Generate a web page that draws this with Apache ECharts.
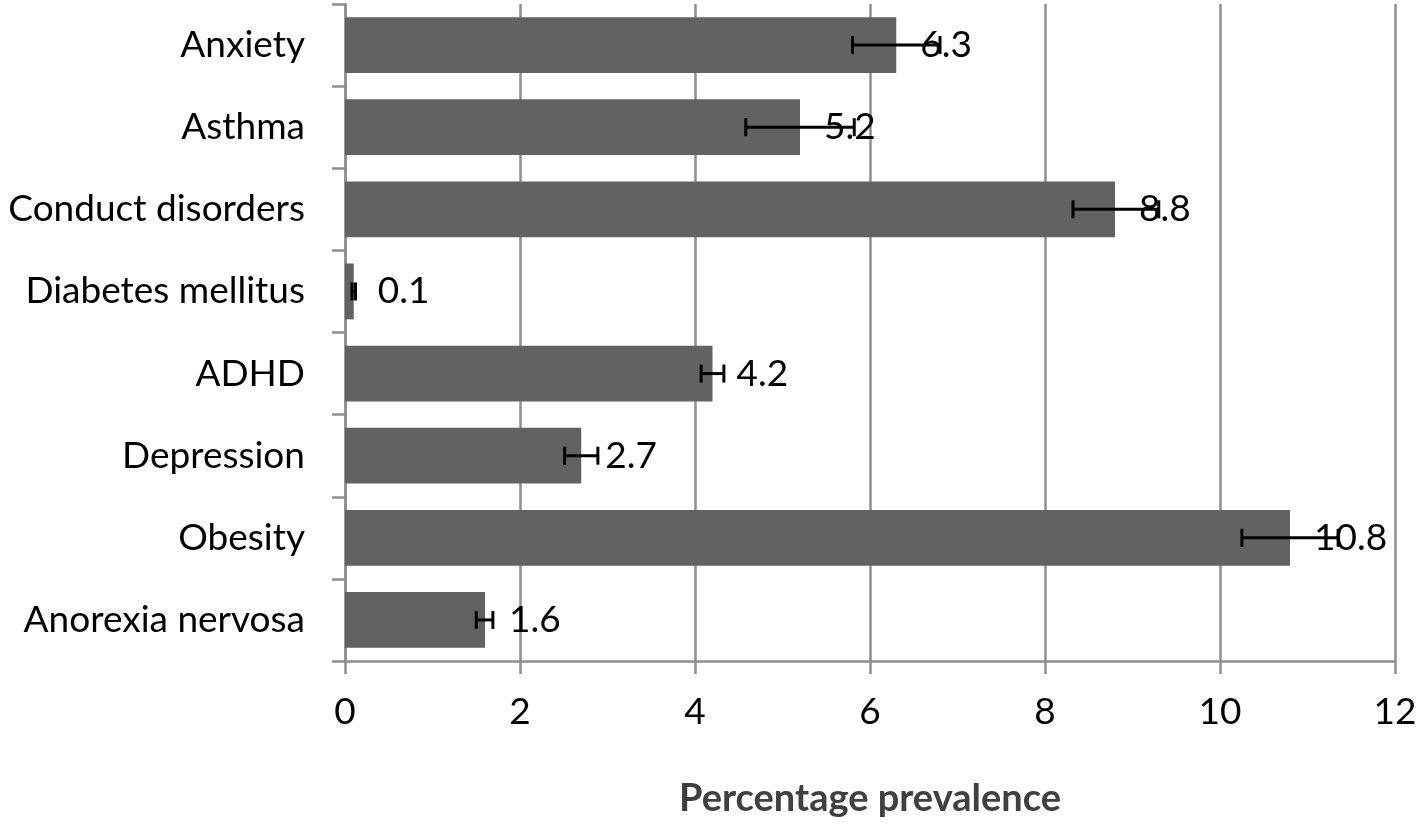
<!DOCTYPE html>
<html>
<head>
<meta charset="utf-8">
<script src="https://cdn.jsdelivr.net/npm/echarts@6/dist/echarts.min.js"></script>
<style>
  html, body { margin: 0; padding: 0; background: #fff; }
  #chart { width: 1421px; height: 829px; }
</style>
</head>
<body>
<div id="chart"></div>
<script>
// categories top to bottom
var categories = ['Anxiety', 'Asthma', 'Conduct disorders', 'Diabetes mellitus',
                  'ADHD', 'Depression', 'Obesity', 'Anorexia nervosa'];
var prevalence = [6.3, 5.2, 8.8, 0.1, 4.2, 2.7, 10.8, 1.6];
// error bar ends
var errLow  = [5.8, 4.58, 8.32, 0.08, 4.07, 2.51, 10.25, 1.5];
var errHigh = [6.8, 5.82, 9.3, 0.12, 4.33, 2.89, 11.35, 1.69];
var xTicks = [0, 2, 4, 6, 8, 10, 12];

var fontFam = 'Lato, "Open Sans", sans-serif';
var gridGray = '#8e8e8e';

window.onload = function () {
    var chart = echarts.init(document.getElementById('chart'), null, {renderer: 'canvas'});

    // build error bar data: [low, high, index]
    var errData = [];
    for (var i = 0; i < categories.length; i++) {
        errData.push([errLow[i], errHigh[i], i]);
    }

    var option = {
        backgroundColor: '#fff',
        animation: false,
        grid: { left: 345, right: 26, top: 4, bottom: 168, containLabel: false },
        xAxis: {
            type: 'value',
            min: xTicks[0],
            max: xTicks[xTicks.length - 1],
            interval: 2,
            name: 'Percentage prevalence',
            nameLocation: 'middle',
            nameGap: 119,
            nameTextStyle: { fontFamily: fontFam, fontSize: 38, fontWeight: 'bold', color: '#404040' },
            axisLine: { show: true, lineStyle: { color: gridGray, width: 2.5 } },
            axisTick: { show: true, length: 13, lineStyle: { color: gridGray, width: 2.5 } },
            axisLabel: { fontFamily: fontFam, fontSize: 37, color: '#000', margin: 33 },
            splitLine: { show: true, lineStyle: { color: gridGray, width: 2.5 } }
        },
        yAxis: {
            type: 'category',
            data: categories,
            inverse: true,
            axisLine: { show: true, lineStyle: { color: gridGray, width: 2.5 } },
            axisTick: { show: true, length: 13, lineStyle: { color: gridGray, width: 2.5 } },
            axisLabel: { fontFamily: fontFam, fontSize: 37, color: '#000', margin: 40 },
            splitLine: { show: false }
        },
        series: [
            {
                type: 'bar',
                data: prevalence,
                barCategoryGap: '32%',
                itemStyle: { color: '#626262' },
                label: {
                    show: true,
                    position: 'right',
                    distance: 24,
                    fontFamily: fontFam,
                    fontSize: 37,
                    color: '#000'
                },
                z: 2
            },
            {
                type: 'custom',
                data: errData,
                encode: { x: [0, 1], y: 2 },
                z: 3,
                renderItem: function (params, api) {
                    var idx = api.value(2);
                    var p1 = api.coord([api.value(0), idx]);
                    var p2 = api.coord([api.value(1), idx]);
                    var h = 9;
                    var st = { stroke: '#000', lineWidth: 3 };
                    return {
                        type: 'group',
                        children: [
                            { type: 'line', shape: { x1: p1[0], y1: p1[1], x2: p2[0], y2: p2[1] }, style: st },
                            { type: 'line', shape: { x1: p1[0], y1: p1[1] - h, x2: p1[0], y2: p1[1] + h }, style: st },
                            { type: 'line', shape: { x1: p2[0], y1: p2[1] - h, x2: p2[0], y2: p2[1] + h }, style: st }
                        ]
                    };
                }
            }
        ]
    };

    chart.setOption(option);
};
</script>
</body>
</html>
